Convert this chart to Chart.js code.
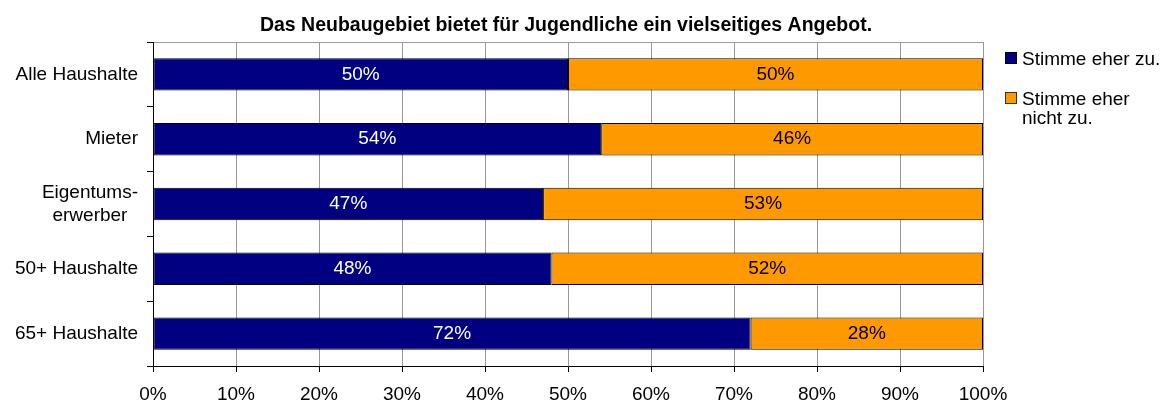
<!DOCTYPE html>
<html>
<head>
<meta charset="utf-8">
<script src="https://cdn.jsdelivr.net/npm/chart.js@4.4.1/dist/chart.umd.min.js"></script>
<style>
  body { margin: 0; background: #fff; }
  #wrap { position: relative; width: 1173px; height: 403px; }
  #legend {
    position: absolute; left: 1005px; top: 49px;
    font: 19px "Liberation Sans", Arial, sans-serif; color: #000;
  }
  .item { display: flex; align-items: flex-start; margin-bottom: 21px; line-height: 19px; }
  .box { width: 10px; height: 10px; margin: 3px 5px 0 0; flex: none; }
  .txt { width: 145px; }
</style>
</head>
<body>
<div id="wrap">
  <canvas id="chart" width="1173" height="403"></canvas>
  <div id="legend"></div>
</div>
<script>
// survey answers in percent, one entry per household group
const titleText = 'Das Neubaugebiet bietet für Jugendliche ein vielseitiges Angebot.'
const categories = ['Alle Haushalte', 'Mieter', ['Eigentums-', 'erwerber'], '50+ Haushalte', '65+ Haushalte']
const agree = [50, 54, 47, 48, 72]
const disagree = [50, 46, 53, 52, 28]
const seriesNames = ['Stimme eher zu.', 'Stimme eher nicht zu.']
const seriesColors = ['#000080', '#FF9900']
const boxBorders = ['#000', '#333']
const labelColors = ['#fff', '#000']

const FONT = '"Liberation Sans", Arial, sans-serif'

// title above the plot
const titlePlugin = {
  id: 'titlePlugin',
  afterDraw(chart) {
    const { ctx, chartArea } = chart
    ctx.save()
    ctx.font = 'bold 19.5px ' + FONT
    ctx.fillStyle = '#000'
    ctx.textAlign = 'center'
    ctx.textBaseline = 'alphabetic'
    ctx.fillText(titleText, (chartArea.left + chartArea.right) / 2 - 2, 31)
    ctx.restore()
  }
}

// category names, multi-line ones centred on their own block
const catLabels = {
  id: 'catLabels',
  afterDraw(chart) {
    const { ctx } = chart
    const yScale = chart.scales.y
    ctx.save()
    ctx.font = '19px ' + FONT
    ctx.fillStyle = '#000'
    ctx.textAlign = 'center'
    ctx.textBaseline = 'middle'
    categories.forEach((cat, i) => {
      const lines = [].concat(cat)
      const y = yScale.getPixelForTick(i)
      const widest = Math.max(...lines.map(l => ctx.measureText(l).width))
      const cx = yScale.right - 15 - widest / 2
      lines.forEach((line, j) => {
        ctx.fillText(line, cx, y + (j - (lines.length - 1) / 2) * 23)
      })
    })
    ctx.restore()
  }
}

// percentage inside each bar segment
const valueLabels = {
  id: 'valueLabels',
  afterDatasetsDraw(chart) {
    const { ctx } = chart
    ctx.save()
    ctx.font = '19px ' + FONT
    ctx.textAlign = 'center'
    ctx.textBaseline = 'middle'
    chart.data.datasets.forEach((ds, di) => {
      ctx.fillStyle = labelColors[di]
      chart.getDatasetMeta(di).data.forEach((bar, i) => {
        ctx.fillText(ds.data[i] + '%', (bar.x + bar.base) / 2, bar.y)
      })
    })
    ctx.restore()
  }
}

const datasets = [agree, disagree].map((values, i) => ({
  label: seriesNames[i],
  data: values,
  backgroundColor: seriesColors[i],
  borderColor: '#000',
  borderWidth: 1,
  borderSkipped: false,
  categoryPercentage: 1,
  barPercentage: 0.5
}))

new Chart(document.getElementById('chart'), {
  type: 'bar',
  data: { labels: categories, datasets },
  options: {
    indexAxis: 'y',
    responsive: false,
    animation: false,
    layout: { padding: { top: 42, right: 190, bottom: 0, left: 0 } },
    plugins: { legend: { display: false }, tooltip: { enabled: false } },
    scales: {
      x: {
        stacked: true,
        min: 0,
        max: 100,
        ticks: {
          stepSize: 10,
          color: '#000',
          font: { family: FONT, size: 19 },
          padding: 11,
          maxRotation: 0,
          callback: v => v + '%'
        },
        grid: {
          color: c => (c.index === 0 ? 'transparent' : '#999'),
          tickColor: '#000',
          tickLength: 6
        },
        border: { color: '#000' },
        afterFit: s => { s.height = 37 }
      },
      y: {
        stacked: true,
        ticks: { color: 'transparent', font: { family: FONT, size: 19 } },
        grid: {
          color: c => (c.index === 0 ? '#999' : 'transparent'),
          tickColor: '#000',
          tickLength: 6
        },
        border: { color: '#000' },
        afterFit: s => { s.width = 153 }
      }
    }
  },
  plugins: [titlePlugin, catLabels, valueLabels]
})

// legend beside the plot
const legend = document.getElementById('legend')
seriesNames.forEach((name, i) => {
  const item = document.createElement('div')
  item.className = 'item'
  const box = document.createElement('span')
  box.className = 'box'
  box.style.background = seriesColors[i]
  box.style.border = '1px solid ' + boxBorders[i]
  const txt = document.createElement('span')
  txt.className = 'txt'
  txt.textContent = name
  item.append(box, txt)
  legend.appendChild(item)
})
</script>
</body>
</html>
